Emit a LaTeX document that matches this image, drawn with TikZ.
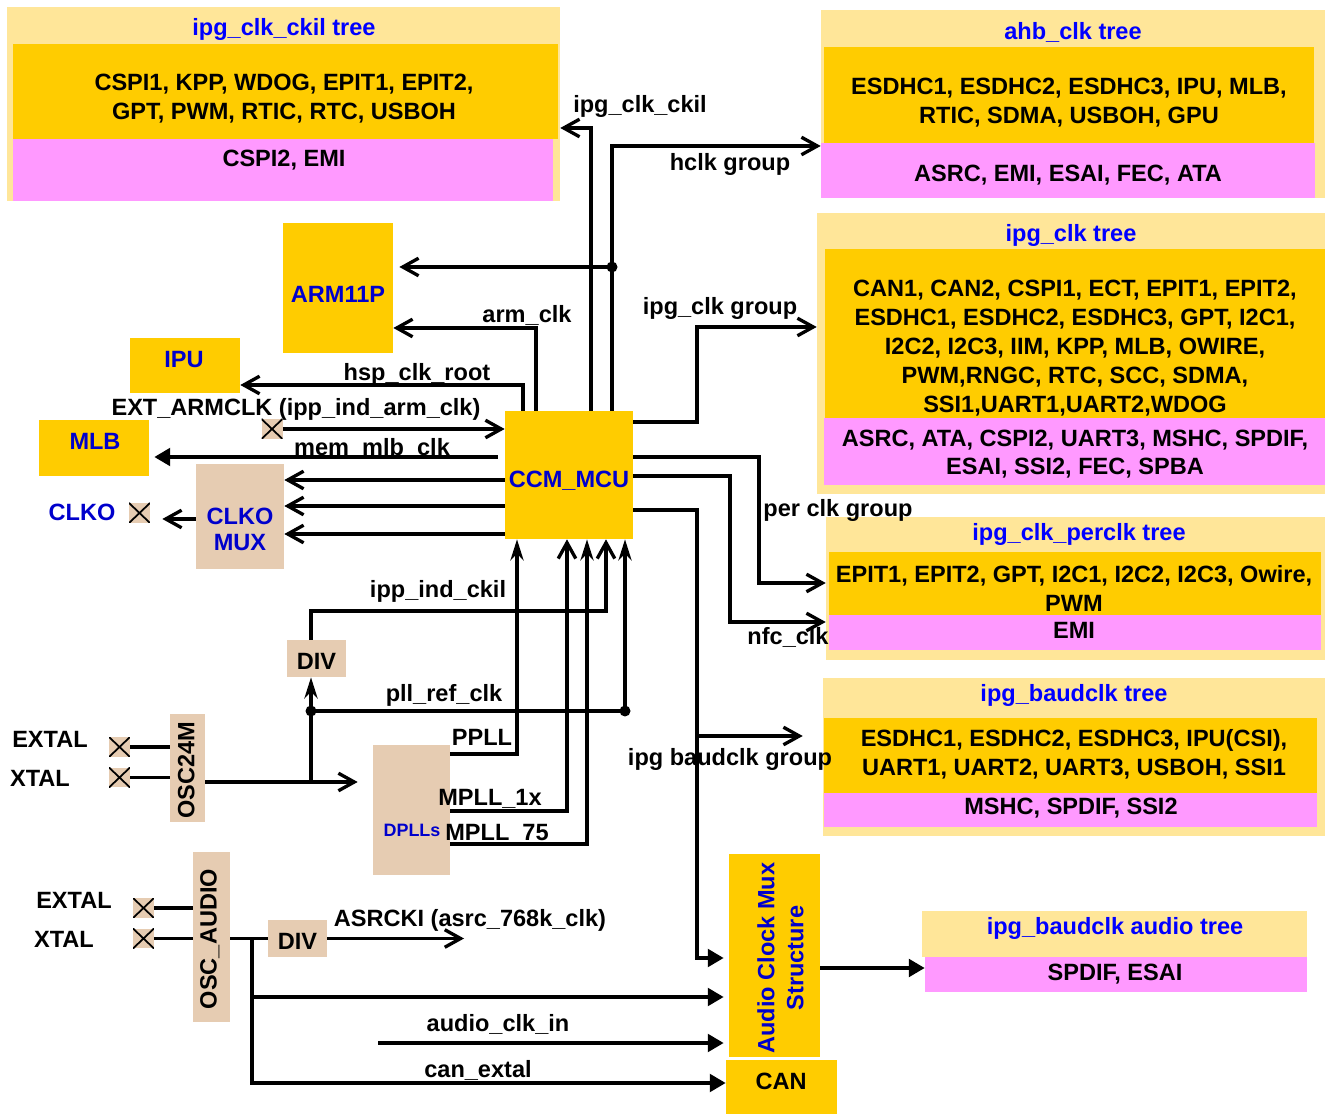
\documentclass[tikz,border=0pt]{standalone}
\usepackage{fontspec}
\setmainfont{Liberation Sans}
\usepackage{xcolor}
\definecolor{treebg}{HTML}{FFE699}
\definecolor{goldbg}{HTML}{FFCC00}
\definecolor{pinkbg}{HTML}{FF99FF}
\definecolor{tanbg}{HTML}{E6CCB2}
\definecolor{titleblue}{HTML}{0000FF}
\definecolor{boxblue}{HTML}{0000CC}
\usepackage{tikz}
\usetikzlibrary{arrows.meta}
\tikzset{
  box/.style={rectangle, fill=#1, draw=none, inner sep=0pt},
  txt/.style={font=\fontsize{13.4}{16.5}\selectfont\bfseries, align=center, inner sep=0pt, yshift=-1.2pt},
  ttl/.style={txt, text=titleblue},
  blu/.style={txt, text=boxblue},
  xpin/.style={rectangle, fill=tanbg, minimum width=0.42cm, minimum height=0.4cm, inner sep=0pt,
    path picture={\draw[line width=1pt]
      (path picture bounding box.south west) -- (path picture bounding box.north east)
      (path picture bounding box.north west) -- (path picture bounding box.south east);}},
  wire/.style={line width=1.9pt, draw=black},
  opn/.style={wire, -{Straight Barb[length=9pt, width=10pt]}},
  stl/.style={wire, -{Stealth[length=12pt, width=7.5pt]}},
  tri/.style={wire, -{Triangle[length=9pt, width=10pt]}}
}

\begin{document}
\begin{tikzpicture}[x=0.02cm, y=-0.02cm]
  \useasboundingbox (0,0) rectangle (1326,1114);

  %% clock trees on the right and top left
  \node[box=treebg, minimum width=11.06cm, minimum height=3.88cm] (ckil) at (283.5,104) {};
  \node[box=goldbg, minimum width=10.9cm,  minimum height=1.9cm]  (ckilA) at (285.5,91.5) {};
  \node[box=pinkbg, minimum width=10.8cm,  minimum height=1.24cm] (ckilB) at (283,170) {};
  \node[ttl] (ckilT) at (284,27) {ipg\_clk\_ckil tree};
  \node[txt] (ckilAt) at (284,96.5) {CSPI1, KPP, WDOG, EPIT1, EPIT2,\\GPT, PWM, RTIC, RTC, USBOH};
  \node[txt] (ckilBt) at (284,158) {CSPI2, EMI};

  \node[box=treebg, minimum width=10.08cm, minimum height=3.76cm] (ahb) at (1073,104) {};
  \node[box=goldbg, minimum width=9.8cm,   minimum height=1.92cm] (ahbA) at (1069,95) {};
  \node[box=pinkbg, minimum width=9.88cm,  minimum height=1.1cm]  (ahbB) at (1068,170.5) {};
  \node[ttl] (ahbT) at (1073,30) {ahb\_clk tree};
  \node[txt] (ahbAt) at (1069,100.5) {ESDHC1, ESDHC2, ESDHC3, IPU, MLB,\\RTIC, SDMA, USBOH, GPU};
  \node[txt] (ahbBt) at (1068,173) {ASRC, EMI, ESAI, FEC, ATA};

  \node[box=treebg, minimum width=10.16cm, minimum height=5.62cm] (ipg) at (1071,353.5) {};
  \node[box=goldbg, minimum width=10.0cm,  minimum height=3.38cm] (ipgA) at (1075,333.5) {};
  \node[box=pinkbg, minimum width=10.02cm, minimum height=1.34cm] (ipgB) at (1074.5,451.5) {};
  \node[ttl] (ipgT) at (1071,233) {ipg\_clk tree};
  \node[txt] (ipgAt) at (1075,346) {CAN1, CAN2, CSPI1, ECT, EPIT1, EPIT2,\\ESDHC1, ESDHC2, ESDHC3, GPT, I2C1,\\I2C2, I2C3, IIM, KPP, MLB, OWIRE,\\PWM,RNGC, RTC, SCC, SDMA,\\SSI1,UART1,UART2,WDOG};
  \node[txt] (ipgBt) at (1075,452) {ASRC, ATA, CSPI2, UART3, MSHC, SPDIF,\\ESAI, SSI2, FEC, SPBA};

  \node[box=treebg, minimum width=9.98cm, minimum height=2.86cm] (perclk) at (1075.5,588.5) {};
  \node[box=goldbg, minimum width=9.84cm, minimum height=1.26cm] (perclkA) at (1075,583.5) {};
  \node[box=pinkbg, minimum width=9.84cm, minimum height=0.7cm]  (perclkB) at (1075,632.5) {};
  \node[ttl] (perclkT) at (1079,532) {ipg\_clk\_perclk tree};
  \node[txt] (perclkAt) at (1074,586.5) {EPIT1, EPIT2, GPT, I2C1, I2C2, I2C3, Owire,\\PWM};
  \node[txt] (perclkBt) at (1074,628) {EMI};

  \node[box=treebg, minimum width=10.04cm, minimum height=3.16cm] (baud) at (1074,757) {};
  \node[box=goldbg, minimum width=9.86cm,  minimum height=1.5cm]  (baudA) at (1070.5,755.5) {};
  \node[box=pinkbg, minimum width=9.86cm,  minimum height=0.68cm] (baudB) at (1070.5,810) {};
  \node[ttl] (baudT) at (1074,693) {ipg\_baudclk tree};
  \node[txt] (baudAt) at (1074,752.5) {ESDHC1, ESDHC2, ESDHC3, IPU(CSI),\\UART1, UART2, UART3, USBOH, SSI1};
  \node[txt] (baudBt) at (1071,806) {MSHC, SPDIF, SSI2};

  \node[box=treebg, minimum width=7.7cm,  minimum height=0.92cm] (audtitle) at (1114.5,934) {};
  \node[box=pinkbg, minimum width=7.64cm, minimum height=0.7cm]  (audtree) at (1116,974.5) {};
  \node[ttl] (audT) at (1115,926) {ipg\_baudclk audio tree};
  \node[txt] (audBt) at (1115,972) {SPDIF, ESAI};

  %% blocks
  \node[box=goldbg, minimum width=2.2cm,  minimum height=2.6cm]  (arm) at (338,288) {};
  \node[blu] (armt) at (338,292) {ARM11P};
  \node[box=goldbg, minimum width=2.2cm,  minimum height=1.1cm]  (ipu) at (185,365.5) {};
  \node[blu] (iput) at (184,357) {IPU};
  \node[box=goldbg, minimum width=2.2cm,  minimum height=1.12cm] (mlb) at (94,448) {};
  \node[blu] (mlbt) at (95,439) {MLB};
  \node[box=goldbg, minimum width=2.56cm, minimum height=2.56cm] (ccm) at (569,475) {};
  \node[blu] (ccmt) at (569,479) {CCM\_MCU};
  \node[box=tanbg,  minimum width=1.76cm, minimum height=2.1cm]  (clkmux) at (240,516.5) {};
  \node[blu] (clkmuxt) at (240,527) {CLKO\\[-1.5pt]MUX};
  \node[box=tanbg,  minimum width=1.18cm, minimum height=0.74cm] (divA) at (316.5,658.5) {};
  \node[txt] (divAt) at (316.5,659) {DIV};
  \node[box=tanbg,  minimum width=0.7cm,  minimum height=2.16cm] (osc24) at (187.5,768) {};
  \node[txt, rotate=90, yshift=1.2pt] (osc24t) at (188.5,768) {OSC24M};
  \node[box=tanbg,  minimum width=1.54cm, minimum height=2.6cm]  (dpll) at (411.5,810) {};
  \node[blu, font=\fontsize{10.2}{12}\selectfont\bfseries] (dpllt) at (412,828) {DPLLs};
  \node[box=tanbg,  minimum width=0.74cm, minimum height=3.4cm]  (oscaud) at (211.5,937) {};
  \node[txt, rotate=90, yshift=1.2pt] (oscaudt) at (212,937) {OSC\_AUDIO};
  \node[box=tanbg,  minimum width=1.18cm, minimum height=0.74cm] (divB) at (297.5,938.5) {};
  \node[txt] (divBt) at (297.5,939) {DIV};
  \node[box=goldbg, minimum width=1.82cm, minimum height=4.06cm] (amux) at (774.5,955.5) {};
  \node[blu, rotate=90, yshift=1.2pt] (amuxt) at (782.5,956) {Audio Clock Mux\\Structure};
  \node[box=goldbg, minimum width=2.22cm, minimum height=1.08cm] (can) at (781.5,1087) {};
  \node[txt] (cant) at (781,1079) {CAN};

  %% pins
  \node[xpin] (xarm)  at (272,429) {};
  \node[xpin] (xclko) at (139.5,513) {};
  \node[xpin] (xext1) at (119.5,747) {};
  \node[xpin] (xtal1) at (119.5,777.5) {};
  \node[xpin] (xext2) at (143.5,908) {};
  \node[xpin] (xtal2) at (143.5,938.5) {};

  \coordinate (jarm) at (612,267);
  \coordinate (jbaud) at (697,736);
  \coordinate (jref) at (311,711);
  \coordinate (jpll) at (625,711);
  \coordinate (jaud) at (252,938.5);
  \coordinate (asrc) at (464,938.5);
  \coordinate (audin) at (378,1043);

  %% CCM outputs
  \draw[opn] (ccm.north -| 523,0) |- (ipu.east |- 0,385);
  \draw[opn] (ccm.north -| 536,0) |- (arm.east |- 0,328);
  \draw[opn] (ccm.north -| 591,0) |- (ckil.east |- 0,128);
  \draw[opn] (ccm.north -| 612,0) |- (ahb.west |- 0,146);
  \draw[opn, shorten >=0.12cm] (jarm) -- (arm.east |- jarm);
  \fill (jarm) circle (0.11cm);
  \draw[opn] (ccm.east |- 0,422) -| (697,327) -- (ipg.west |- 0,327);
  \draw[opn] (ccm.east |- 0,457) -| (759,583) -- (perclk.west |- 0,583);
  \draw[opn] (ccm.east |- 0,476) -| (730,622) -- (perclk.west |- 0,622);
  \draw[tri, shorten >=0.1cm] (ccm.east |- 0,510) -| (697,958) -- (amux.west |- 0,958);
  \draw[opn, shorten >=0.4cm] (jbaud) -- (baud.west |- jbaud);
  \draw[tri, shorten <=0.14cm, shorten >=0.1cm] (ccm.west |- 0,457) -- (mlb.east |- 0,457);
  \draw[opn] (ccm.west |- 0,480) -- (clkmux.east |- 0,480);
  \draw[opn] (ccm.west |- 0,506) -- (clkmux.east |- 0,506);
  \draw[opn] (ccm.west |- 0,534) -- (clkmux.east |- 0,534);
  \draw[opn, shorten >=0.24cm] (clkmux.west |- 0,519) -- (xclko.east |- 0,519);

  %% CCM inputs
  \draw[opn] (xarm.east) -- (ccm.west |- xarm.east);
  \draw[opn] (divA.north -| jref) |- (606,611) -- (ccm.south -| 606,0);
  \draw[wire] (jref) -- (jpll);
  \draw[stl] (jpll) -- (ccm.south -| jpll);
  \draw[stl] (jref) -- (divA.south -| jref);
  \draw[wire] (jref |- 0,782) -- (jref);
  \fill (jref) circle (0.11cm);
  \fill (jpll) circle (0.11cm);
  \draw[opn, shorten >=0.3cm] (osc24.east |- 0,782) -- (dpll.west |- 0,782);
  \draw[stl] (dpll.east |- 0,754) -| (ccm.south -| 517,0);
  \draw[opn] (dpll.east |- 0,811) -| (ccm.south -| 567,0);
  \draw[stl] (dpll.east |- 0,844) -| (ccm.south -| 587,0);
  \draw[wire] (xext1.east) -- (osc24.west |- xext1.east);
  \draw[wire] (xtal1.east) -- (osc24.west |- xtal1.east);

  %% audio part
  \draw[wire] (xext2.east) -- (oscaud.west |- xext2.east);
  \draw[wire] (xtal2.east) -- (oscaud.west |- xtal2.east);
  \draw[wire] (oscaud.east |- divB.west) -- (divB.west);
  \draw[opn] (divB.east) -- (asrc);
  \draw[tri, shorten >=0.1cm] (jaud) |- (amux.west |- 0,997);
  \draw[tri] (jaud) |- (can.west |- 0,1083);
  \draw[tri, shorten >=0.1cm] (audin) -- (amux.west |- audin);
  \draw[tri] (amux.east |- 0,968) -- (audtree.west |- 0,968);

  %% signal names
  \node[txt] (lckil) at (640,104) {ipg\_clk\_ckil};
  \node[txt] (lhclk) at (730,162) {hclk group};
  \node[txt] (lipg)  at (720,306) {ipg\_clk group};
  \node[txt] (larm)  at (527,313) {arm\_clk};
  \node[txt] (lhsp)  at (417,372) {hsp\_clk\_root};
  \node[txt] (lext)  at (296,407) {EXT\_ARMCLK (ipp\_ind\_arm\_clk)};
  \node[txt] (lmem)  at (372,446) {mem\_mlb\_clk};
  \node[blu] (lclko) at (82,510) {CLKO};
  \node[txt] (lper)  at (838,508) {per clk group};
  \node[txt] (lnfc)  at (788,635) {nfc\_clk};
  \node[txt] (lbaud) at (730,757) {ipg baudclk group};
  \node[txt] (lind)  at (438,589) {ipp\_ind\_ckil};
  \node[txt] (lref)  at (444,693) {pll\_ref\_clk};
  \node[txt] (lppll) at (482,735) {PPLL};
  \node[txt] (lm1x)  at (490,797) {MPLL\_1x};
  \node[txt] (lm75)  at (497,832) {MPLL\_75};
  \node[txt] (lext1) at (50,737) {EXTAL};
  \node[txt] (ltal1) at (40,776) {XTAL};
  \node[txt] (lext2) at (74,898) {EXTAL};
  \node[txt] (ltal2) at (64,937) {XTAL};
  \node[txt] (lasrc) at (470,918) {ASRCKI (asrc\_768k\_clk)};
  \node[txt] (laud)  at (498,1022) {audio\_clk\_in};
  \node[txt] (lcan)  at (478,1068) {can\_extal};

\end{tikzpicture}
\end{document}
